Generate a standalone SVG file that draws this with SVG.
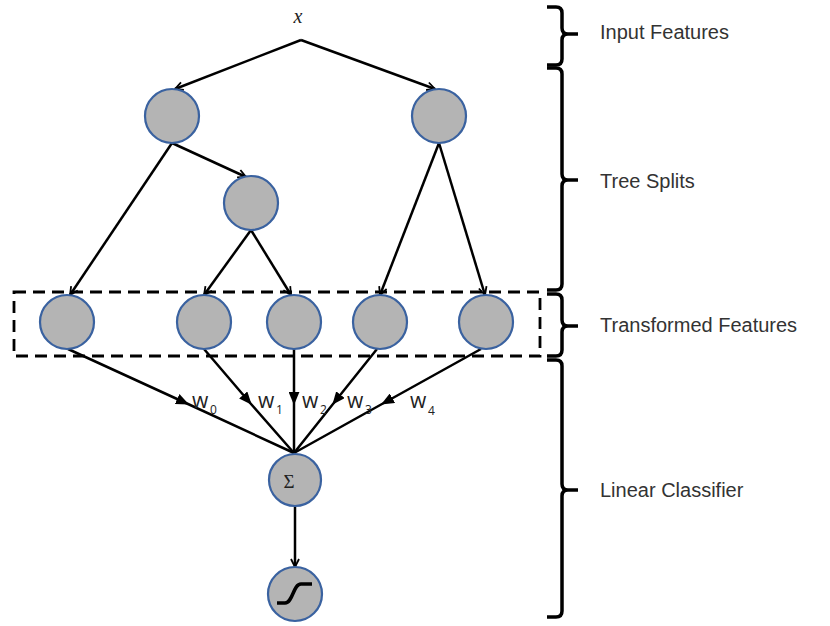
<svg xmlns="http://www.w3.org/2000/svg" width="830" height="626" viewBox="0 0 830 626">
<style>
.node{fill:#b4b4b4;stroke:#3a62a0;stroke-width:2.2}
.edge{fill:none;stroke:#000;stroke-width:2.5}
.brace{fill:none;stroke:#000;stroke-width:3.5;stroke-linecap:butt}
.lbl{font-family:"Liberation Sans",Arial,sans-serif;font-size:20px;fill:#333}
.w{font-family:"Open Sans",sans-serif;font-size:21px;fill:#222}
.sub{font-family:"Open Sans",sans-serif;font-size:12px;fill:#222}
</style>
<defs>
<marker id="open" viewBox="0 0 10 10" refX="9" refY="5" markerWidth="10" markerHeight="10" markerUnits="userSpaceOnUse" orient="auto">
<path d="M1,1 L9,5 L1,9" fill="none" stroke="#000" stroke-width="1.8"/>
</marker>
<marker id="tri" viewBox="0 0 12 10" refX="11" refY="5" markerWidth="13" markerHeight="11" markerUnits="userSpaceOnUse" orient="auto">
<path d="M0,0 L12,5 L0,10 Z" fill="#000"/>
</marker>
</defs>
<text x="298" y="23" font-family="Liberation Serif,serif" font-style="italic" font-size="20" text-anchor="middle" fill="#222">x</text>
<g id="connectors">
<path class="edge" d="M301,40 L175,89" marker-end="url(#open)"/>
<path class="edge" d="M301,40 L435,89" marker-end="url(#open)"/>
<path class="edge" d="M172,143 L246,177" marker-end="url(#open)"/>
<path class="edge" d="M172,143 L70,295" marker-end="url(#open)"/>
<path class="edge" d="M251,230 L204,295" marker-end="url(#open)"/>
<path class="edge" d="M251,230 L291,295" marker-end="url(#open)"/>
<path class="edge" d="M439,143 L380,295" marker-end="url(#open)"/>
<path class="edge" d="M439,143 L485,295" marker-end="url(#open)"/>
<path class="edge" d="M68,349 L188,404 L294,453" marker-mid="url(#tri)"/>
<path class="edge" d="M204,349 L251,404 L294,453" marker-mid="url(#tri)"/>
<path class="edge" d="M294,349 L294,404 L294,453" marker-mid="url(#tri)"/>
<path class="edge" d="M377,349 L333,404 L294,453" marker-mid="url(#tri)"/>
<path class="edge" d="M481,349 L382,404 L294,453" marker-mid="url(#tri)"/>
<path class="edge" d="M295,507 L295,567" marker-end="url(#open)"/>
</g>
<rect id="transformed-box" x="14" y="292" width="526" height="64" fill="none" stroke="#000" stroke-width="2.8" stroke-dasharray="12,7"/>
<g id="root-left"><circle class="node" cx="172" cy="116" r="27"/></g>
<g id="root-right"><circle class="node" cx="439" cy="116" r="27"/></g>
<g id="split-mid"><circle class="node" cx="251" cy="203" r="27"/></g>
<g id="leaf0"><circle class="node" cx="67" cy="322" r="27"/></g>
<g id="leaf1"><circle class="node" cx="204" cy="322" r="27"/></g>
<g id="leaf2"><circle class="node" cx="294" cy="322" r="27"/></g>
<g id="leaf3"><circle class="node" cx="380" cy="322" r="27"/></g>
<g id="leaf4"><circle class="node" cx="486" cy="322" r="27"/></g>
<g id="sum"><circle class="node" cx="295" cy="480" r="26"/>
<text x="289" y="488" font-family="Liberation Serif,serif" font-size="19" text-anchor="middle" fill="#222">Σ</text></g>
<g id="sigmoid"><circle class="node" cx="295" cy="594" r="27"/>
<path d="M277,603 H285 C293,603 293,584 301,584 H312" fill="none" stroke="#000" stroke-width="3.5"/></g>
<g id="weights">
<text class="w" x="192" y="408">w</text><text class="sub" x="210" y="414">0</text>
<text class="w" x="258" y="408">w</text><text class="sub" x="276" y="414">1</text>
<text class="w" x="302" y="408">w</text><text class="sub" x="320" y="414">2</text>
<text class="w" x="347" y="408">w</text><text class="sub" x="365" y="414">3</text>
<text class="w" x="410" y="408">w</text><text class="sub" x="428" y="415">4</text>
</g>
<g id="braces">
<path class="brace" d="M547,7 H556 Q562,7 562,13 V28 Q562,34 568,34 H578 M568,34 Q562,34 562,40 V59 Q562,65 556,65 H547"/>
<path class="brace" d="M547,68 H556 Q562,68 562,74 V174 Q562,180 568,180 H578 M568,180 Q562,180 562,186 V284 Q562,290 556,290 H547"/>
<path class="brace" d="M547,294 H556 Q562,294 562,300 V320 Q562,326 568,326 H578 M568,326 Q562,326 562,332 V350 Q562,356 556,356 H547"/>
<path class="brace" d="M547,360 H556 Q562,360 562,366 V484 Q562,490 568,490 H578 M568,490 Q562,490 562,496 V611 Q562,617 556,617 H547"/>
</g>
<text class="lbl" x="600" y="39">Input Features</text>
<text class="lbl" x="600" y="188">Tree Splits</text>
<text class="lbl" x="600" y="332">Transformed Features</text>
<text class="lbl" x="600" y="497">Linear Classifier</text>
</svg>
